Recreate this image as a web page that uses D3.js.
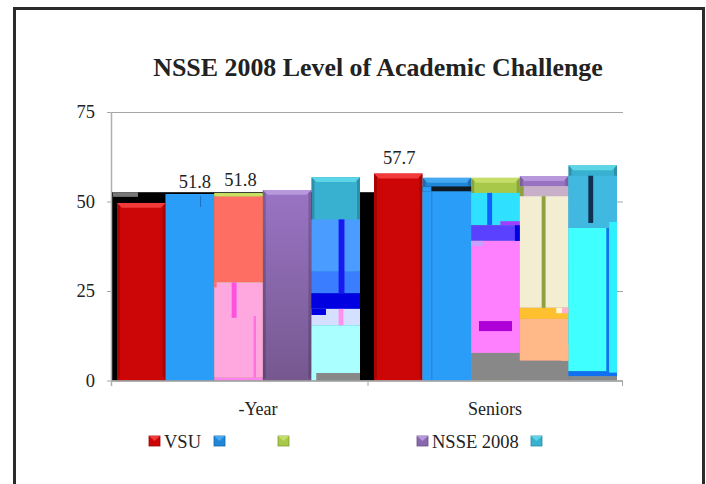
<!DOCTYPE html>
<html><head><meta charset="utf-8">
<script src="https://cdn.jsdelivr.net/npm/d3@7"></script>
<style>html,body{margin:0;padding:0;background:#fff}svg{display:block}text{font-family:"Liberation Serif",serif;fill:#222}</style>
</head><body><svg id="c" width="706" height="484"></svg>
<script>
const title = "NSSE 2008 Level of Academic Challenge";
const categories = ["-Year", "Seniors"];
const seriesNames = ["VSU", "", "", "NSSE 2008", ""];
const yTicks = [0, 25, 50, 75];
const valuesYear = [49.6, 52.1, 52.4, 53.2, 56.8];
const valuesSeniors = [57.8, 56.6, 56.6, 57.1, 60.1];
const seriesColors = ["#cc0606", "#1f86d8", "#a8c84a", "#8a68ad", "#38b0d0"];
const seriesLight = ["#f23a3a", "#45a8f0", "#c4de68", "#b898dc", "#5cd6e6"];
const dataLabels = [[0, 1, "51.8", 53.7, 5], [0, 2, "51.8", 54.3, 2], [1, 0, "57.7", 60.4, 1]];
// Corrupted colour bands seen inside the bars: [group, series, top value, bottom value, colour]
const bands = [
  [0,1,52.0,0,"#2a9df8"],
  [0,2,52.2,51.4,"#c8e060"],[0,2,51.4,27.4,"#ff6e63"],[0,2,27.4,0.8,"#ffa8e0"],[0,2,0.8,0,"#ff80f0"],
  [0,4,45.0,30.5,"#4a9cff"],[0,4,30.5,24.4,"#3a7dff"],[0,4,24.4,20,"#0000e0"],[0,4,20,15.4,"#d5dfff"],[0,4,15.4,2.1,"#aaffff"],[0,4,2.1,0,"#888888"],
  [1,1,54.2,52.8,"#101820"],[1,1,52.8,0,"#2a9df8"],
  [1,2,52.4,43.4,"#30e0ff"],[1,2,43.4,39,"#5a40ff"],[1,2,39,7.7,"#ff80ff"],[1,2,7.7,0,"#888888"],
  [1,3,54.3,51.5,"#c8b0c8"],[1,3,51.5,20.3,"#f3edd2"],[1,3,20.3,17.2,"#ffc030"],[1,3,17.2,5.5,"#ffb888"],[1,3,5.5,0,"#888888"],
  [1,4,57.2,42.6,"#40b8e0"],[1,4,42.6,2.6,"#40ffff"],[1,4,2.6,1.2,"#1070f0"],[1,4,1.2,0,"#888888"]
];
// Narrow stripes: [group, series, left share of bar, right share of bar, top value, bottom value, colour]
const stripes = [
  [0,1,0.71,0.73,51.5,48.5,"#1f70c0"],
  [0,2,0.36,0.46,27.4,17.5,"#ff50e0"],[0,2,0.81,0.86,18,0.8,"#ff70e0"],[0,2,0,0.05,27.4,26,"#ff6e63"],
  [0,4,0.56,0.68,45,24.4,"#1818f0"],[0,4,0,0.3,20,18.3,"#0000e0"],[0,4,0.56,0.66,20,15.4,"#ff90f0"],[0,4,0,0.1,2.1,0,"#aaffff"],
  [1,1,0.18,0.2,52.8,0,"#1f80d8"],[1,1,0,0.18,54.2,52.8,"#2a9df8"],
  [1,2,0.33,0.43,52.4,43.4,"#1060ff"],[1,2,0.9,1,43.4,39,"#0000e0"],[1,2,0.16,0.84,16.6,13.8,"#b000d8"],[1,2,0.6,1,44.5,43.4,"#a040ff"],[1,2,0,0.25,39,37.6,"#c8a0ff"],
  [1,3,0.45,0.53,51.5,20.3,"#8fa040"],[1,3,0,0.08,54.3,51.5,"#8fa040"],[1,3,0.75,0.87,20.3,18.8,"#fff8d8"],[1,3,0.87,1,20.3,18.8,"#ffb0d0"],
  [1,3,0.85,1,10,5.5,"#ffb888"],
  [1,4,0.41,0.51,57.2,44,"#103050"],[1,4,0.78,0.84,42.6,2.6,"#1070f0"],[1,4,0.84,1,44.3,2.2,"#30f0ff"]
];

const svg = d3.select("#c");
svg.append("rect").attr("x",14.5).attr("y",8.5).attr("width",689).attr("height",490)
  .attr("fill","#fff").attr("stroke","#2b2b2b").attr("stroke-width",3);

const defs = svg.append("defs");
const grad = defs.append("linearGradient").attr("id","purple").attr("x1",0).attr("x2",0).attr("y1",0).attr("y2",1);
grad.append("stop").attr("offset",0).attr("stop-color","#9a74c4");
grad.append("stop").attr("offset",1).attr("stop-color","#76588f");

const margin = {left:112, right:623, top:112, bottom:380.5};
const y = d3.scaleLinear().domain([0,75]).range([margin.bottom, margin.top]);
const x0 = d3.scaleBand().domain(categories).range([margin.left, margin.left+514]);
const x1 = d3.scaleBand().domain(d3.range(seriesNames.length)).range([5,248]);
const values = [valuesYear, valuesSeniors];
const bx = (g,s) => x0(categories[g]) + x1(s);

// gridlines + y axis
const yAxis = d3.axisLeft(y).tickValues(yTicks).tickSize(margin.right-margin.left+5).tickPadding(12);
const ya = svg.append("g").attr("transform",`translate(${margin.right},0)`).call(yAxis);
ya.select(".domain").remove();
ya.selectAll("line").attr("stroke","#a6a6a6");
ya.selectAll("text").attr("font-size",18.5).style("fill","#222");

// black background behind the first group
svg.append("rect").attr("x",margin.left).attr("width",x0(categories[1])+x1(0)-margin.left)
  .attr("y",y(52.6)).attr("height",y(0)-y(52.6)).attr("fill","#000");
svg.append("rect").attr("x",margin.left+1).attr("width",x1(0)+20)
  .attr("y",y(52.6)).attr("height",y(51.3)-y(52.6)).attr("fill","#777");

// base bars
const flat = values.flatMap((vs,g)=>vs.map((v,s)=>({g,s,v})));
const bars = svg.append("g");
bars.selectAll("rect.bar").data(flat).join("rect").attr("class","bar")
  .attr("x",d=>bx(d.g,d.s)).attr("width",x1.bandwidth())
  .attr("y",d=>y(d.v)).attr("height",d=>y(0)-y(d.v))
  .attr("fill",d=>d.s===3?"url(#purple)":seriesColors[d.s]);
// bevel: lit top edge, shaded sides
const bevel = 3;
bars.selectAll("path.top").data(flat).join("path").attr("class","top")
  .attr("d",d=>{const l=bx(d.g,d.s),r=l+x1.bandwidth(),t=y(d.v);
    return d3.line()([[l,t],[r,t],[r-bevel*1.6,t+bevel*1.6],[l+bevel*1.6,t+bevel*1.6]])+"Z";})
  .attr("fill",d=>seriesLight[d.s]);
bars.selectAll("path.side").data(flat).join("path").attr("class","side")
  .attr("d",d=>{const l=bx(d.g,d.s),r=l+x1.bandwidth(),t=y(d.v),b=y(0);
    return `M${l},${t}L${l+bevel},${t+bevel}L${l+bevel},${b-bevel}L${l},${b}Z M${r},${t}L${r-bevel},${t+bevel}L${r-bevel},${b-bevel}L${r},${b}Z`;})
  .attr("fill","#000").attr("opacity",0.18);

// corrupted bands
bars.selectAll("rect.band").data(bands).join("rect").attr("class","band")
  .attr("x",d=>bx(d[0],d[1])).attr("width",x1.bandwidth())
  .attr("y",d=>y(d[2])).attr("height",d=>y(d[3])-y(d[2])).attr("fill",d=>d[4]);
bars.selectAll("rect.stripe").data(stripes).join("rect").attr("class","stripe")
  .attr("x",d=>bx(d[0],d[1])+d[2]*x1.bandwidth()).attr("width",d=>(d[3]-d[2])*x1.bandwidth())
  .attr("y",d=>y(Math.max(d[4],d[5]))).attr("height",d=>Math.abs(y(d[5])-y(d[4]))).attr("fill",d=>d[6]);

// x axis
const ax = svg.append("g");
ax.append("line").attr("x1",margin.left-0.5).attr("x2",margin.right).attr("y1",381).attr("y2",381).attr("stroke","#a6a6a6").attr("stroke-width",1.5);
ax.append("line").attr("x1",margin.left-0.5).attr("x2",margin.left-0.5).attr("y1",margin.top).attr("y2",386).attr("stroke","#b0b0b0").attr("stroke-width",1.5);
[x0(categories[1])-1, margin.right-0.5].forEach(t=>
  ax.append("line").attr("x1",t).attr("x2",t).attr("y1",381).attr("y2",386).attr("stroke","#a6a6a6"));
ax.selectAll("text").data(categories).join("text")
  .attr("x",(d,i)=>x0(d)+[146,126][i]).attr("y",415).attr("text-anchor","middle").attr("font-size",18).text(d=>d);

// data labels
svg.selectAll("text.dl").data(dataLabels).join("text").attr("class","dl")
  .attr("x",d=>bx(d[0],d[1])+x1.bandwidth()/2+d[4])
  .attr("y",d=>y(d[3])).attr("text-anchor","middle").attr("font-size",18.5).text(d=>d[2]);

// title
svg.append("text").attr("x",378).attr("y",76).attr("text-anchor","middle")
  .attr("font-size",25.9).attr("font-weight","bold").text(title);

// legend
const legendX = d3.scaleOrdinal().domain(d3.range(5)).range([149,214,278,417,531]);
const lg = svg.append("g").selectAll("g").data(seriesNames).join("g")
  .attr("transform",(d,i)=>`translate(${legendX(i)},436)`);
lg.append("rect").attr("width",11).attr("height",10).attr("fill",(d,i)=>seriesColors[i]).attr("stroke",(d,i)=>d3.color(seriesColors[i]).darker(0.7)).attr("stroke-width",0.8);
lg.append("path").attr("d","M0,0L11,0L5.5,5Z").attr("fill",(d,i)=>seriesLight[i]);
lg.append("text").attr("x",15).attr("y",11.5).attr("font-size",18.5).text(d=>d);
</script></body></html>
